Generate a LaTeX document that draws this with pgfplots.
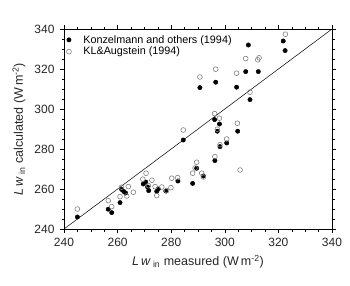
\documentclass[border=0pt]{standalone}
\usepackage{fontspec}
\setmainfont{Liberation Sans}
\usepackage{pgfplots}
\pgfplotsset{compat=1.18}
\begin{document}
\begin{tikzpicture}
\begin{axis}[
  scale only axis, width=268pt, height=200pt,
  xmin=240, xmax=340, ymin=240, ymax=340,
  xtick={240,260,...,340}, ytick={240,260,...,340},
  minor tick num=3,
  tick align=outside,
  major tick length=4pt, minor tick length=2.5pt,
  every tick/.style={black, line width=0.5pt},
  axis line style={line width=0.6pt},
  /pgf/number format/assume math mode=true,
  ticklabel style={font=\fontsize{12}{14}\selectfont, color=black!85},
  xticklabel style={yshift=-2pt},
  yticklabel style={xshift=-2pt},
  label style={font=\fontsize{12.5}{14}\selectfont, color=black!85},
  xlabel={\textit{L\,w}\,\textsubscript{in} measured (W\,m\textsuperscript{-2})},
  ylabel={\textit{L\,w}\,\textsubscript{in} calculated (W\,m\textsuperscript{-2})},
  xlabel style={yshift=-1pt},
  ylabel style={yshift=2pt},
  legend style={draw=none, fill=none, at={(0.005,0.985)}, anchor=north west,
    font=\fontsize{10.8}{12}\selectfont, row sep=-1.5pt, inner sep=1pt},
  legend cell align=left,
]
\addplot[black, line width=0.5pt, forget plot] coordinates {(240,240) (340,340)};
\addplot[only marks, mark=*, mark size=2.2pt, black] coordinates {
(245.0,246.0) (256.5,249.9) (257.8,248.2) (260.9,253.2) (261.5,259.8)
(262.3,258.8) (263.0,258.0) (269.6,262.5) (270.5,263.5) (271.2,261.0)
(271.6,259.2) (274.6,258.8) (275.2,260.0) (278.0,259.0) (282.5,264.0)
(288.0,262.8) (289.5,270.4) (292.0,266.5) (296.3,274.2) (298.2,281.2)
(300.7,283.0) (284.5,284.5) (297.2,288.9) (304.8,288.9) (296.2,294.7)
(298.0,292.5) (309.4,304.7) (290.7,310.7) (304.4,310.9) (296.6,313.4)
(307.8,318.7) (312.5,318.7) (308.8,332.0) (321.8,334.0) (322.5,329.2)
};
\addlegendentry{\hspace*{10pt}Konzelmann and others (1994)}
\addplot[only marks, mark=o, mark size=2.4pt, black!50, mark options={line width=0.6pt}] coordinates {
(245.0,250.0) (256.5,254.2) (257.8,251.2) (260.9,256.2) (261.5,260.9)
(263.4,256.5) (264.0,261.2) (265.9,258.4) (269.4,264.9) (270.6,267.9)
(271.5,261.7) (272.8,264.4) (274.0,261.2) (274.6,256.7) (276.5,261.0)
(278.3,259.2) (279.9,260.7) (280.2,265.4) (282.4,265.7) (288.0,267.9)
(288.9,270.5) (289.5,273.4) (291.4,267.9) (292.0,266.0) (296.3,276.2)
(298.2,282.2) (300.7,285.0) (305.7,269.5) (284.5,289.5) (297.2,289.9)
(304.7,292.9) (296.2,297.7) (298.0,295.4) (309.4,308.4) (290.7,316.0)
(304.4,317.9) (296.6,319.9) (307.8,325.2) (312.3,324.6) (312.8,325.6)
(322.6,337.4)
};
\addlegendentry{\hspace*{10pt}KL\&Augstein (1994)}
\end{axis}
\path (current axis.south west) +(-64pt,-56pt);
\path (current axis.north east) +(18pt,29pt);
\end{tikzpicture}
\end{document}
